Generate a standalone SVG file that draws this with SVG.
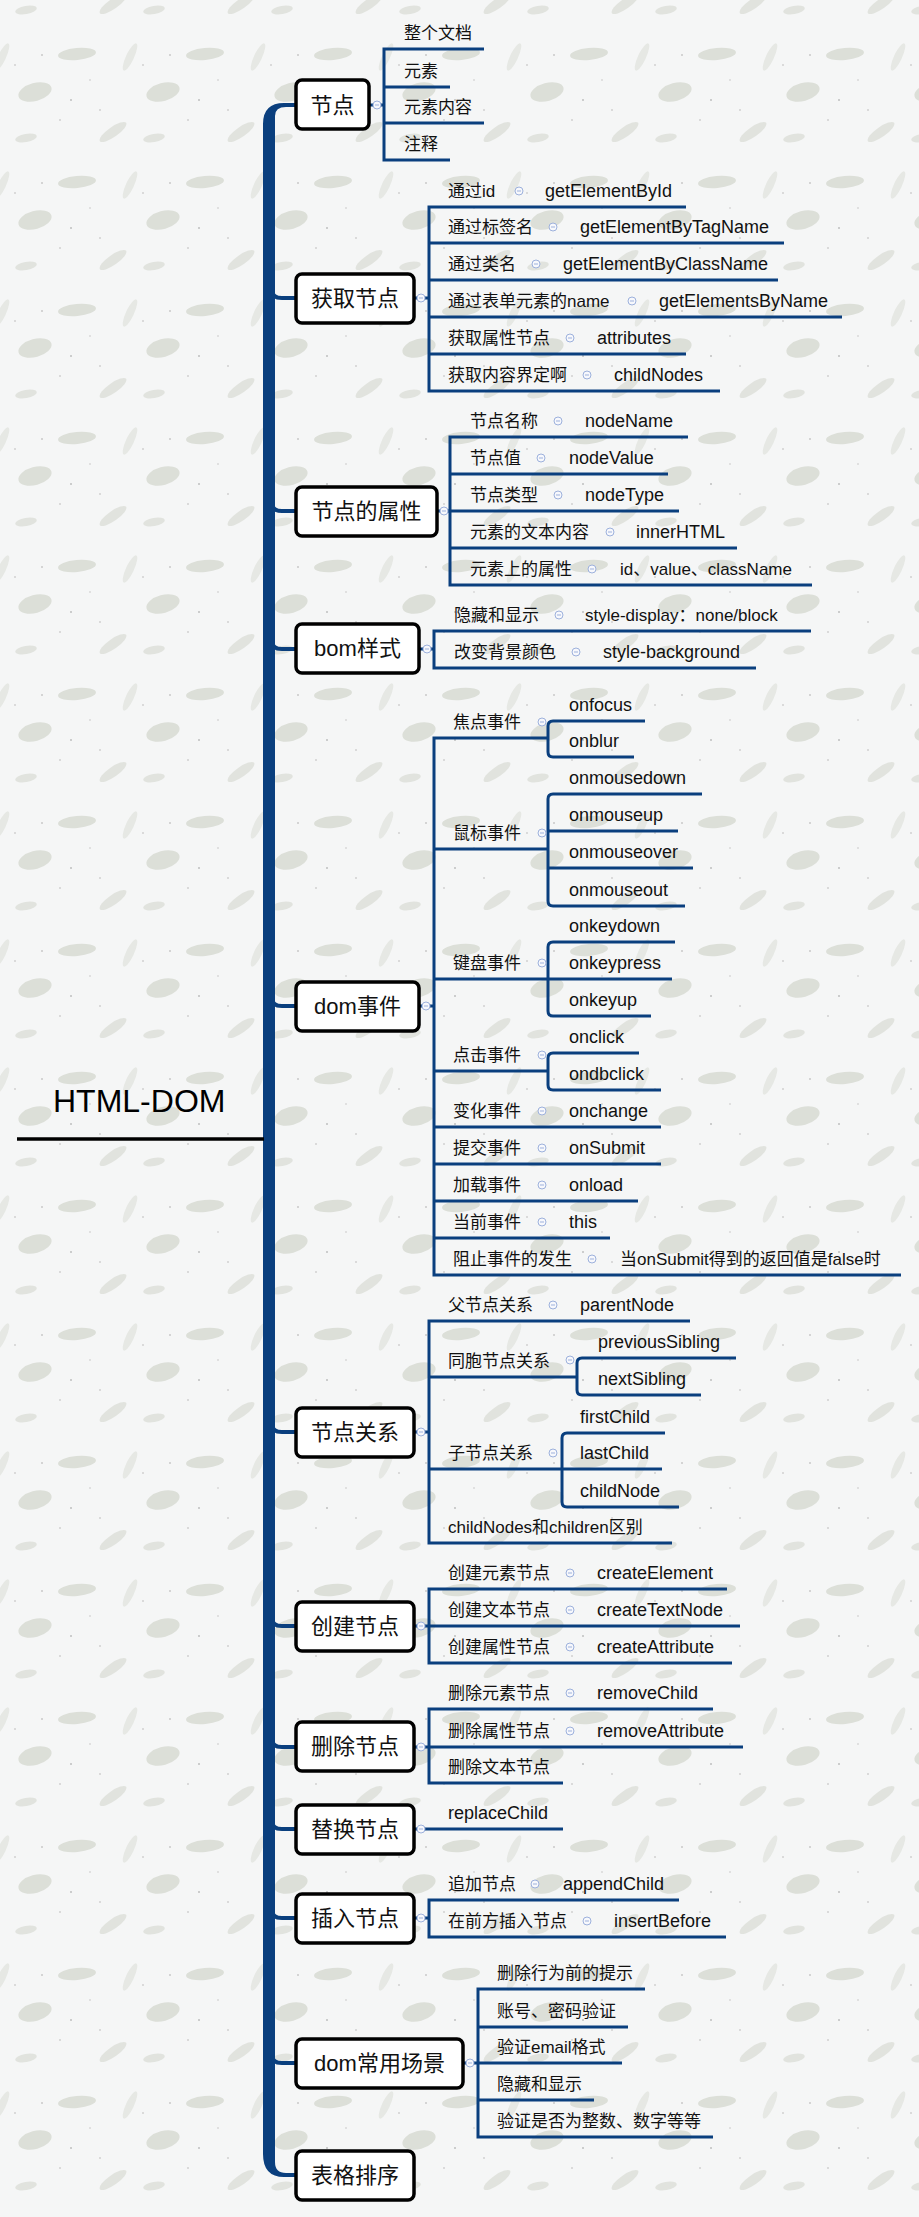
<svg xmlns="http://www.w3.org/2000/svg" xmlns:xlink="http://www.w3.org/1999/xlink" width="919" height="2217" viewBox="0 0 919 2217">
<style>
text{font-family:"Liberation Sans","Noto Sans CJK SC",sans-serif;fill:#111;}
.t1{font-size:22px;text-anchor:middle;}
.t2{font-size:17px;}
.t3{font-size:18px;}
.root{font-size:32px;fill:#000;}
.bx{fill:#fff;stroke:#000;stroke-width:3.5;}
.ln{fill:none;stroke:#0a3f7e;stroke-width:3;}
.br{fill:none;stroke:#0a3f7e;stroke-width:4;}
.blob{fill:#dcdfd8;}
</style>
<defs>
<pattern id="bg" patternUnits="userSpaceOnUse" x="0" y="1300" width="128" height="128">
<rect width="128" height="128" fill="#f5f6f6"/>
<ellipse class="blob" cx="77" cy="34" rx="19" ry="6" transform="rotate(-5 77 34)"/>
<ellipse class="blob" cx="2" cy="37" rx="4" ry="15" transform="rotate(25 2 37)" opacity="0.6"/>
<ellipse class="blob" cx="130" cy="37" rx="4" ry="15" transform="rotate(25 130 37)" opacity="0.6"/>
<ellipse class="blob" cx="35" cy="72" rx="17" ry="9" transform="rotate(-15 35 72)"/>
<ellipse class="blob" cx="113" cy="112" rx="16" ry="5" transform="rotate(-35 113 112)" opacity="0.8"/>
<ellipse class="blob" cx="26" cy="118" rx="11" ry="4" transform="rotate(-10 26 118)" opacity="0.8"/>
<circle cx="42" cy="35" r="0.8" fill="#aaa"/><circle cx="71" cy="80" r="0.8" fill="#999"/>
<circle cx="100" cy="90" r="0.7" fill="#aaa"/><circle cx="15" cy="45" r="0.7" fill="#aaa"/>
<circle cx="60" cy="100" r="0.7" fill="#aaa"/><circle cx="90" cy="60" r="0.7" fill="#bbb"/>
</pattern>
<g id="cc"><circle r="4" fill="#f7f8fc" stroke="#9db1dc" stroke-width="1"/><path d="M-2 0H2" stroke="#9db1dc" stroke-width="1"/></g>
</defs>
<rect width="919" height="2217" fill="url(#bg)"/>

<g id="connectors">
<path fill="#0a3f7e" d="M296 103H284Q263 103 263 124V2154Q263 2177 284 2177H296V2173H286Q275 2173 275 2162V116Q275 107 286 107H296Z"/>
<path class="br" d="M272 290Q272 298 282 298H297 M272 503Q272 511 282 511H297 M272 641Q272 649 282 649H297 M272 998Q272 1006 282 1006H297 M272 1424Q272 1432 282 1432H297 M272 1618Q272 1626 282 1626H297 M272 1739Q272 1747 282 1747H297 M272 1821Q272 1829 282 1829H297 M272 1910Q272 1918 282 1918H297 M272 2055Q272 2063 282 2063H297"/>
<path d="M17 1139H264" stroke="#000" stroke-width="3.5"/>
<path class="ln" d="M369 105H384 M484 49H384V160H450 M384 87H450 M384 123H484"/>
<path class="ln" d="M414 298H429 M686 207H429V391H720 M429 243H784 M429 280H778 M429 317H842 M429 354H686"/>
<path class="ln" d="M437 511H450 M688 437H450V585H812 M450 474H668 M450 511H679 M450 548H737"/>
<path class="ln" d="M419 649H434 M811 631H434V668H756"/>
<path class="ln" d="M419 1006H434 M548 738H434V1275H901 M434 849H548 M434 979H548 M434 1071H548 M434 1127H661 M434 1164H661 M434 1201H638 M434 1238H610"/>
<path class="ln" d="M645 721H553Q548 721 548 726V752Q548 757 553 757H634"/>
<path class="ln" d="M702 794H553Q548 794 548 799V901Q548 906 553 906H685 M548 831H678 M548 868H693"/>
<path class="ln" d="M675 942H553Q548 942 548 947V1011Q548 1016 553 1016H651 M548 979H672"/>
<path class="ln" d="M639 1053H553Q548 1053 548 1058V1085Q548 1090 553 1090H661"/>
<path class="ln" d="M414 1432H429 M690 1321H429V1543H672 M429 1377H577 M429 1469H562"/>
<path class="ln" d="M736 1358H582Q577 1358 577 1363V1390Q577 1395 582 1395H701"/>
<path class="ln" d="M665 1433H567Q562 1433 562 1438V1502Q562 1507 567 1507H679 M562 1469H662"/>
<path class="ln" d="M414 1626H429 M727 1589H429V1663H732 M429 1626H740"/>
<path class="ln" d="M414 1747H429 M713 1709H429V1783H563 M429 1747H743"/>
<path class="ln" d="M414 1829H563"/>
<path class="ln" d="M414 1918H429 M679 1900H429V1937H726"/>
<path class="ln" d="M463 2063H478 M645 1989H478V2137H713 M478 2027H628 M478 2063H622 M478 2100H594"/>
<use href="#cc" x="377" y="105"/><use href="#cc" x="421" y="298"/><use href="#cc" x="444" y="511"/><use href="#cc" x="427" y="649"/><use href="#cc" x="426" y="1006"/><use href="#cc" x="421" y="1432"/><use href="#cc" x="421" y="1626"/><use href="#cc" x="421" y="1747"/><use href="#cc" x="421" y="1829"/><use href="#cc" x="421" y="1918"/><use href="#cc" x="470" y="2063"/>
<use href="#cc" x="519" y="191"/><use href="#cc" x="553" y="227"/><use href="#cc" x="536" y="264"/><use href="#cc" x="632" y="301"/><use href="#cc" x="570" y="338"/><use href="#cc" x="587" y="375"/>
<use href="#cc" x="558" y="421"/><use href="#cc" x="541" y="458"/><use href="#cc" x="558" y="495"/><use href="#cc" x="610" y="532"/><use href="#cc" x="592" y="569"/>
<use href="#cc" x="559" y="615"/><use href="#cc" x="576" y="652"/>
<use href="#cc" x="542" y="722"/><use href="#cc" x="542" y="833"/><use href="#cc" x="542" y="963"/><use href="#cc" x="542" y="1055"/>
<use href="#cc" x="542" y="1111"/><use href="#cc" x="542" y="1148"/><use href="#cc" x="542" y="1185"/><use href="#cc" x="542" y="1222"/><use href="#cc" x="592" y="1259"/>
<use href="#cc" x="553" y="1305"/><use href="#cc" x="570" y="1360"/><use href="#cc" x="553" y="1453"/>
<use href="#cc" x="570" y="1573"/><use href="#cc" x="570" y="1610"/><use href="#cc" x="570" y="1647"/>
<use href="#cc" x="570" y="1693"/><use href="#cc" x="570" y="1731"/>
<use href="#cc" x="535" y="1884"/><use href="#cc" x="587" y="1921"/>
</g>

<g id="root"><text class="root" x="53" y="1112">HTML-DOM</text></g>

<g id="n1"><rect class="bx" x="296" y="80" width="73" height="49" rx="6"/><text class="t1" x="332.5" y="113">节点</text></g>
<g id="n1-1"><text class="t2" x="404" y="39">整个文档</text></g>
<g id="n1-2"><text class="t2" x="404" y="77">元素</text></g>
<g id="n1-3"><text class="t2" x="404" y="113">元素内容</text></g>
<g id="n1-4"><text class="t2" x="404" y="150">注释</text></g>

<g id="n2"><rect class="bx" x="296" y="274" width="118" height="49" rx="6"/><text class="t1" x="355" y="306">获取节点</text></g>
<g id="n2-1"><text class="t2" x="448" y="197">通过id</text><text class="t3" x="545" y="197">getElementById</text></g>
<g id="n2-2"><text class="t2" x="448" y="233">通过标签名</text><text class="t3" x="580" y="233">getElementByTagName</text></g>
<g id="n2-3"><text class="t2" x="448" y="270">通过类名</text><text class="t3" x="563" y="270">getElementByClassName</text></g>
<g id="n2-4"><text class="t2" x="448" y="307">通过表单元素的name</text><text class="t3" x="659" y="307">getElementsByName</text></g>
<g id="n2-5"><text class="t2" x="448" y="344">获取属性节点</text><text class="t3" x="597" y="344">attributes</text></g>
<g id="n2-6"><text class="t2" x="448" y="381">获取内容界定啊</text><text class="t3" x="614" y="381">childNodes</text></g>

<g id="n3"><rect class="bx" x="296" y="487" width="141" height="49" rx="6"/><text class="t1" x="366.5" y="519">节点的属性</text></g>
<g id="n3-1"><text class="t2" x="470" y="427">节点名称</text><text class="t3" x="585" y="427">nodeName</text></g>
<g id="n3-2"><text class="t2" x="470" y="464">节点值</text><text class="t3" x="569" y="464">nodeValue</text></g>
<g id="n3-3"><text class="t2" x="470" y="501">节点类型</text><text class="t3" x="585" y="501">nodeType</text></g>
<g id="n3-4"><text class="t2" x="470" y="538">元素的文本内容</text><text class="t3" x="636" y="538">innerHTML</text></g>
<g id="n3-5"><text class="t2" x="470" y="575">元素上的属性</text><text class="t2" x="620" y="575">id、value、className</text></g>

<g id="n4"><rect class="bx" x="296" y="624" width="123" height="49" rx="6"/><text class="t1" x="357.5" y="656">bom样式</text></g>
<g id="n4-1"><text class="t2" x="454" y="621">隐藏和显示</text><text class="t2" x="585" y="621">style-display：none/block</text></g>
<g id="n4-2"><text class="t2" x="454" y="658">改变背景颜色</text><text class="t3" x="603" y="658">style-background</text></g>

<g id="n5"><rect class="bx" x="296" y="982" width="123" height="49" rx="6"/><text class="t1" x="357.5" y="1014">dom事件</text></g>
<g id="n5-1"><text class="t2" x="453" y="728">焦点事件</text></g>
<g id="n5-1-1"><text class="t3" x="569" y="711">onfocus</text></g>
<g id="n5-1-2"><text class="t3" x="569" y="747">onblur</text></g>
<g id="n5-2"><text class="t2" x="453" y="839">鼠标事件</text></g>
<g id="n5-2-1"><text class="t3" x="569" y="784">onmousedown</text></g>
<g id="n5-2-2"><text class="t3" x="569" y="821">onmouseup</text></g>
<g id="n5-2-3"><text class="t3" x="569" y="858">onmouseover</text></g>
<g id="n5-2-4"><text class="t3" x="569" y="896">onmouseout</text></g>
<g id="n5-3"><text class="t2" x="453" y="969">键盘事件</text></g>
<g id="n5-3-1"><text class="t3" x="569" y="932">onkeydown</text></g>
<g id="n5-3-2"><text class="t3" x="569" y="969">onkeypress</text></g>
<g id="n5-3-3"><text class="t3" x="569" y="1006">onkeyup</text></g>
<g id="n5-4"><text class="t2" x="453" y="1061">点击事件</text></g>
<g id="n5-4-1"><text class="t3" x="569" y="1043">onclick</text></g>
<g id="n5-4-2"><text class="t3" x="569" y="1080">ondbclick</text></g>
<g id="n5-5"><text class="t2" x="453" y="1117">变化事件</text><text class="t3" x="569" y="1117">onchange</text></g>
<g id="n5-6"><text class="t2" x="453" y="1154">提交事件</text><text class="t3" x="569" y="1154">onSubmit</text></g>
<g id="n5-7"><text class="t2" x="453" y="1191">加载事件</text><text class="t3" x="569" y="1191">onload</text></g>
<g id="n5-8"><text class="t2" x="453" y="1228">当前事件</text><text class="t3" x="569" y="1228">this</text></g>
<g id="n5-9"><text class="t2" x="453" y="1265">阻止事件的发生</text><text class="t2" x="620" y="1265">当onSubmit得到的返回值是false时</text></g>

<g id="n6"><rect class="bx" x="296" y="1408" width="118" height="49" rx="6"/><text class="t1" x="355" y="1440">节点关系</text></g>
<g id="n6-1"><text class="t2" x="448" y="1311">父节点关系</text><text class="t3" x="580" y="1311">parentNode</text></g>
<g id="n6-2"><text class="t2" x="448" y="1367">同胞节点关系</text></g>
<g id="n6-2-1"><text class="t3" x="598" y="1348">previousSibling</text></g>
<g id="n6-2-2"><text class="t3" x="598" y="1385">nextSibling</text></g>
<g id="n6-3"><text class="t2" x="448" y="1459">子节点关系</text></g>
<g id="n6-3-1"><text class="t3" x="580" y="1423">firstChild</text></g>
<g id="n6-3-2"><text class="t3" x="580" y="1459">lastChild</text></g>
<g id="n6-3-3"><text class="t3" x="580" y="1497">childNode</text></g>
<g id="n6-4"><text class="t2" x="448" y="1533">childNodes和children区别</text></g>

<g id="n7"><rect class="bx" x="296" y="1602" width="118" height="49" rx="6"/><text class="t1" x="355" y="1634">创建节点</text></g>
<g id="n7-1"><text class="t2" x="448" y="1579">创建元素节点</text><text class="t3" x="597" y="1579">createElement</text></g>
<g id="n7-2"><text class="t2" x="448" y="1616">创建文本节点</text><text class="t3" x="597" y="1616">createTextNode</text></g>
<g id="n7-3"><text class="t2" x="448" y="1653">创建属性节点</text><text class="t3" x="597" y="1653">createAttribute</text></g>

<g id="n8"><rect class="bx" x="296" y="1722" width="118" height="49" rx="6"/><text class="t1" x="355" y="1754">删除节点</text></g>
<g id="n8-1"><text class="t2" x="448" y="1699">删除元素节点</text><text class="t3" x="597" y="1699">removeChild</text></g>
<g id="n8-2"><text class="t2" x="448" y="1737">删除属性节点</text><text class="t3" x="597" y="1737">removeAttribute</text></g>
<g id="n8-3"><text class="t2" x="448" y="1773">删除文本节点</text></g>

<g id="n9"><rect class="bx" x="296" y="1805" width="118" height="49" rx="6"/><text class="t1" x="355" y="1837">替换节点</text></g>
<g id="n9-1"><text class="t3" x="448" y="1819">replaceChild</text></g>

<g id="n10"><rect class="bx" x="296" y="1894" width="118" height="49" rx="6"/><text class="t1" x="355" y="1926">插入节点</text></g>
<g id="n10-1"><text class="t2" x="448" y="1890">追加节点</text><text class="t3" x="563" y="1890">appendChild</text></g>
<g id="n10-2"><text class="t2" x="448" y="1927">在前方插入节点</text><text class="t3" x="614" y="1927">insertBefore</text></g>

<g id="n11"><rect class="bx" x="296" y="2039" width="167" height="49" rx="6"/><text class="t1" x="379.5" y="2071">dom常用场景</text></g>
<g id="n11-1"><text class="t2" x="497" y="1979">删除行为前的提示</text></g>
<g id="n11-2"><text class="t2" x="497" y="2017">账号、密码验证</text></g>
<g id="n11-3"><text class="t2" x="497" y="2053">验证email格式</text></g>
<g id="n11-4"><text class="t2" x="497" y="2090">隐藏和显示</text></g>
<g id="n11-5"><text class="t2" x="497" y="2127">验证是否为整数、数字等等</text></g>

<g id="n12"><rect class="bx" x="296" y="2151" width="118" height="49" rx="6"/><text class="t1" x="355" y="2183">表格排序</text></g>
</svg>
